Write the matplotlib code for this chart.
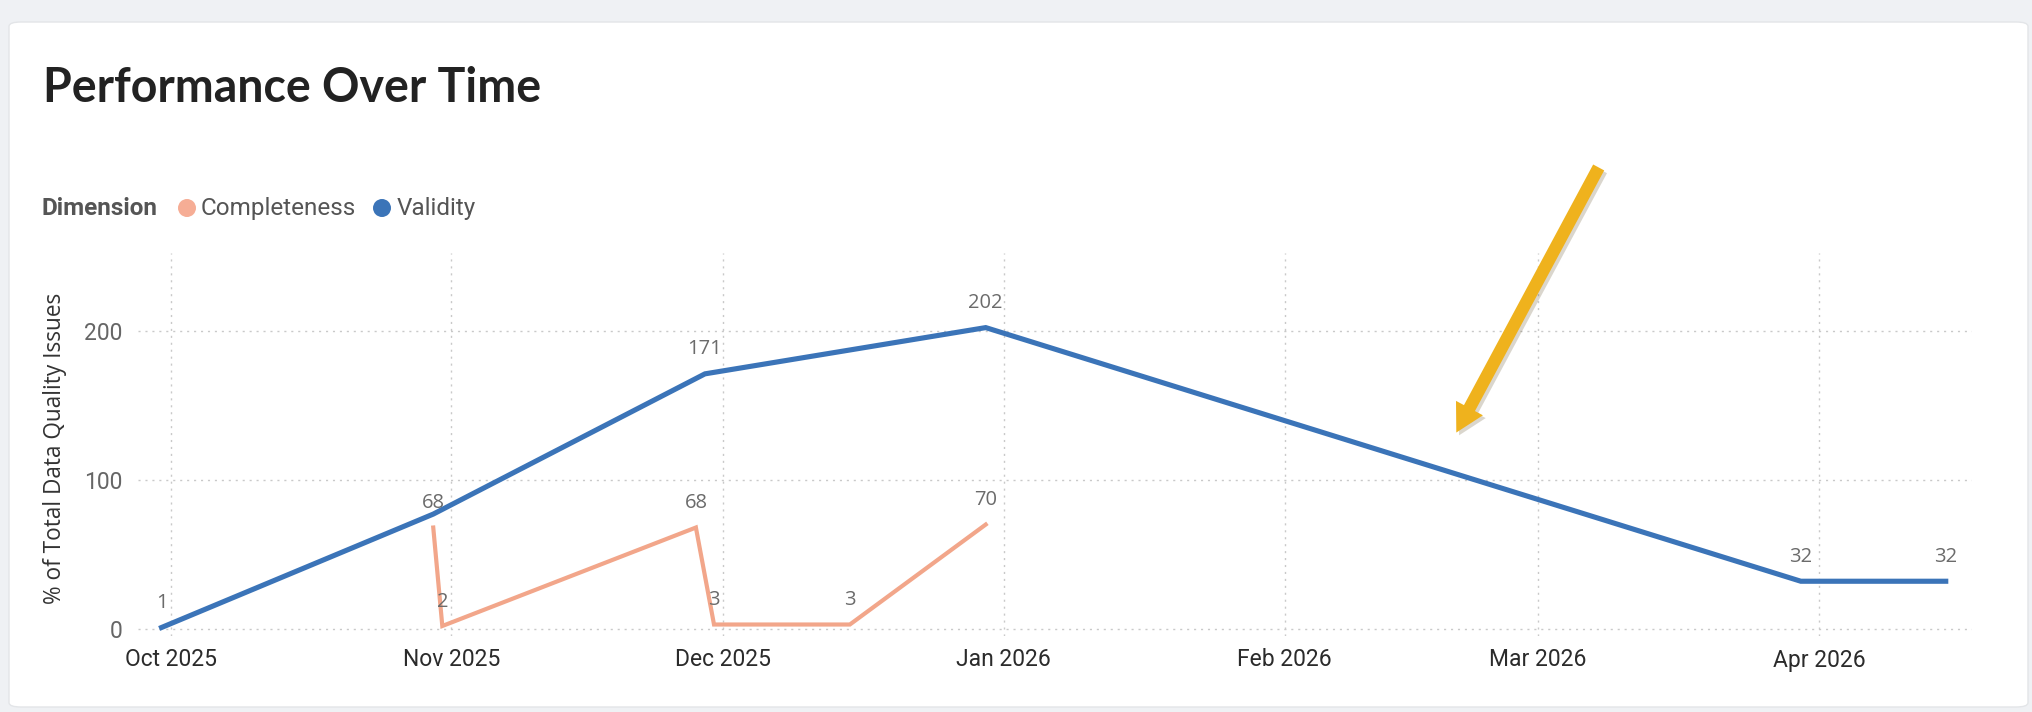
import matplotlib
matplotlib.use("Agg")
import matplotlib.pyplot as plt
import matplotlib.dates as mdates
from matplotlib.patches import FancyBboxPatch, FancyArrowPatch, Circle
from matplotlib import patheffects as pe
import pandas as pd

# ---------------- data ----------------
validity_dates = ["2025-09-30", "2025-10-30", "2025-11-29", "2025-12-30", "2026-03-30", "2026-04-15"]
validity_values = [1, 77, 171, 202, 32, 32]
validity_labels = ["1", None, "171", "202", "32", "32"]

completeness_dates = ["2025-10-30", "2025-10-31", "2025-11-28", "2025-11-30", "2025-12-15", "2025-12-30"]
completeness_values = [68, 2, 68, 3, 3, 70]
completeness_labels = ["68", "2", "68", "3", "3", "70"]

month_ticks = ["2025-10-01", "2025-11-01", "2025-12-01", "2026-01-01", "2026-02-01", "2026-03-01", "2026-04-01"]
y_ticks = [0, 100, 200]

title = "Performance Over Time"
legend_title = "Dimension"
series_names = ["Completeness", "Validity"]
y_label = "% of Total Data Quality Issues"

c_valid = "#3b74b8"
c_comp = "#f2a68a"
c_comp_legend = "#f6ad95"

W, H = 2033, 712
fig = plt.figure(figsize=(W / 100, H / 100), dpi=100)
fig.patch.set_facecolor("#eff1f4")

# card
card = FancyBboxPatch((9 / W, 1 - 707 / H), (2028 - 9) / W, (707 - 22) / H,
                      boxstyle="round,pad=0,rounding_size=0.006", transform=fig.transFigure,
                      facecolor="white", edgecolor="#e3e5e8", linewidth=1.0, zorder=-5)
fig.patches.append(card)

ax_l, ax_r, ax_t, ax_b = 138, 1972, 253, 636
ax = fig.add_axes([ax_l / W, 1 - ax_b / H, (ax_r - ax_l) / W, (ax_b - ax_t) / H])
ax.set_facecolor("none")
ax.set_zorder(2)

vd = pd.to_datetime(validity_dates)
cd = pd.to_datetime(completeness_dates)

ax.plot(cd, completeness_values, color=c_comp, lw=3.0, solid_joinstyle="miter", zorder=3)
ax.plot(vd, validity_values, color=c_valid, lw=3.7, solid_joinstyle="miter", zorder=4)

lab_font = dict(family=["Open Sans", "DejaVu Sans"], fontsize=14.5, color="#6b6b6b")
for d, v, t in zip(cd, completeness_values, completeness_labels):
    if t:
        ax.annotate(t, (d, v), xytext=(0, 14), textcoords="offset points",
                    ha="center", va="baseline", **lab_font, zorder=6)
for d, v, t in zip(vd, validity_values, validity_labels):
    if t:
        ax.annotate(t, (d, v), xytext=(0, 14), textcoords="offset points",
                    ha="center", va="baseline", **lab_font, zorder=6)

x0 = pd.Timestamp("2025-10-01") - pd.Timedelta(days=3.6)
x1 = pd.Timestamp("2026-04-01") + pd.Timedelta(days=16.9)
ax.set_xlim(x0, x1)
ax.set_ylim(-4.7, 252)

ax.set_xticks(pd.to_datetime(month_ticks))
ax.xaxis.set_major_formatter(mdates.DateFormatter("%b %Y"))
ax.set_yticks(y_ticks)

for s in ax.spines.values():
    s.set_visible(False)
ax.tick_params(axis="both", length=0)
ax.tick_params(axis="x", pad=9, labelsize=16.5, labelcolor="#2b2b2b")
ax.tick_params(axis="y", pad=11, labelsize=16.5, labelcolor="#666666")
for lab in ax.get_xticklabels() + ax.get_yticklabels():
    lab.set_family(["Roboto", "DejaVu Sans"])

ax.grid(True, color="#c9c9c9", lw=1.0, linestyle=(0, (1.5, 3.5)))
ax.set_axisbelow(True)

ax.set_ylabel(y_label, family=["Open Sans", "DejaVu Sans"], fontsize=16.3, color="#333333")
ax.yaxis.label.set_verticalalignment("center")
ax.yaxis.set_label_coords(-0.045, 0.49)

# title
fig.text(43 / W, 1 - 102 / H, title, family=["Lato", "DejaVu Sans"], fontweight="bold",
         fontsize=33.5, color="#222222", ha="left", va="baseline")

# legend
ly = 1 - 208 / H
fig.text(42 / W, ly, legend_title, family=["Roboto", "DejaVu Sans"], fontweight="bold",
         fontsize=17.5, color="#555555", ha="left", va="center")
r = 9
for name, col, cx, tx in [(series_names[0], c_comp_legend, 187, 201),
                          (series_names[1], c_valid, 382, 397)]:
    circ = Circle((cx, 712 - 208), r, transform=None, facecolor=col, edgecolor="none")
    fig.patches.append(circ)
    fig.text(tx / W, ly, name, family=["Roboto", "DejaVu Sans"], fontsize=17.5,
             color="#555555", ha="left", va="center")

# annotation arrow
arrow = FancyArrowPatch((1600 / W, 1 - 165 / H), (1455 / W, 1 - 435 / H),
                        transform=fig.transFigure,
                        arrowstyle="simple,head_width=1.1,head_length=1.0,tail_width=0.45",
                        mutation_scale=20, facecolor="#efb21d", edgecolor="none", zorder=10,
                        path_effects=[pe.SimplePatchShadow(offset=(2, -2), alpha=0.2), pe.Normal()])
fig.patches.append(arrow)

fig.savefig("out.png", dpi=100, facecolor=fig.get_facecolor())
